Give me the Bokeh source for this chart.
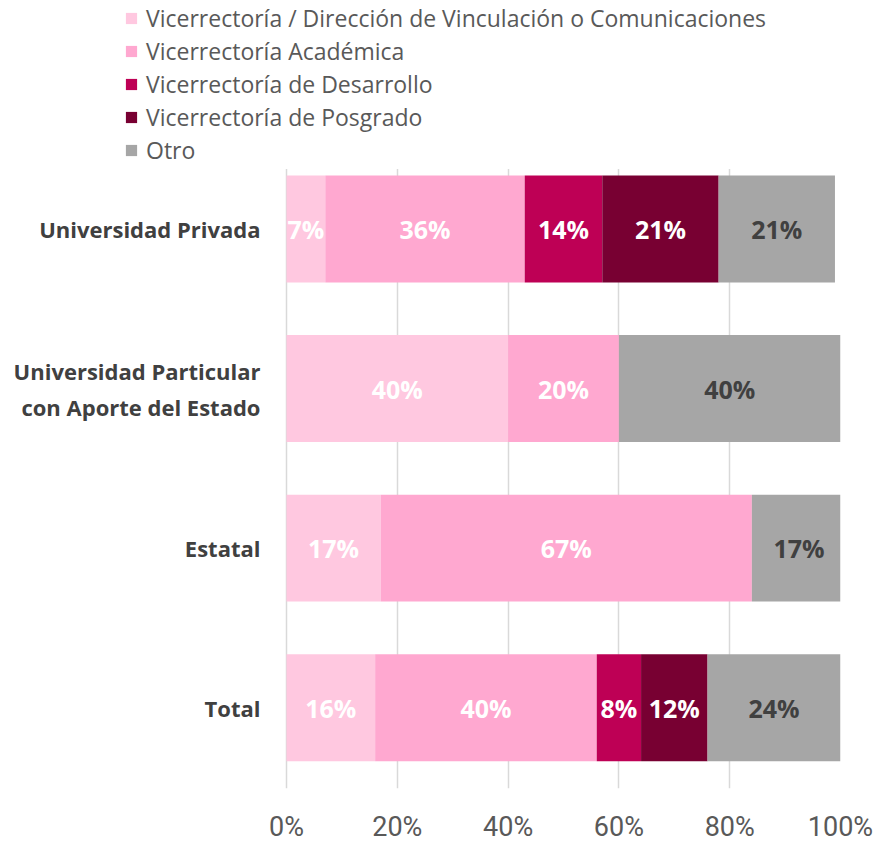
import pandas as pd
from bokeh.plotting import figure
from bokeh.models import ColumnDataSource, Range1d, Legend, LegendItem, FixedTicker, PrintfTickFormatter
from bokeh.core.properties import value
from bokeh.embed import file_html
from bokeh.resources import INLINE

categories = ["Universidad Privada", "Universidad Particular\ncon Aporte del Estado", "Estatal", "Total"]
series_names = [
    "Vicerrectoría / Dirección de Vinculación o Comunicaciones",
    "Vicerrectoría Académica",
    "Vicerrectoría de Desarrollo",
    "Vicerrectoría de Posgrado",
    "Otro",
]
vinculacion = [7, 40, 17, 16]
academica = [36, 20, 67, 40]
desarrollo = [14, 0, 0, 8]
posgrado = [21, 0, 0, 12]
otro = [21, 40, 17, 24]
x_ticks = [0, 20, 40, 60, 80, 100]

colors = ["#FFC8E0", "#FFA8D0", "#BE0055", "#780032", "#A6A6A6"]
label_colors = ["#FFFFFF", "#FFFFFF", "#FFFFFF", "#FFFFFF", "#404040"]
keys = ["s0", "s1", "s2", "s3", "s4"]
series = [vinculacion, academica, desarrollo, posgrado, otro]

n = len(categories)
ypos = [n - 1 - i for i in range(n)]  # first category at top

df = pd.DataFrame({"cat": categories, "y": ypos})
for k, s in zip(keys, series):
    df[k] = s
source = ColumnDataSource(df)

# frame spans the full canvas width on the left so that the legend (left of the bars) is not clipped
PX_PER_PCT = 5.54
p = figure(
    width=879, height=845,
    x_range=Range1d(-286 / PX_PER_PCT, 100),
    y_range=Range1d(-0.506, 3 + 229 / 160),
    output_backend="svg", toolbar_location=None,
    min_border_left=0, min_border_right=39, min_border_top=0, min_border_bottom=55,
)

renderers = p.hbar_stack(keys, y="y", height=0.67, source=source,
                         color=colors, line_color=None)

# data labels
lx, ly, lt, lc = [], [], [], []
for i in range(n):
    cum = 0
    for j, s in enumerate(series):
        v = s[i]
        if v > 0:
            lx.append(cum + v / 2)
            ly.append(ypos[i])
            lt.append(f"{v}%")
            lc.append(label_colors[j])
        cum += v
lsrc = ColumnDataSource(dict(x=lx, y=ly, t=lt, c=lc))
p.text(x="x", y="y", text="t", source=lsrc, text_color="c",
       text_align="center", text_baseline="middle",
       text_font=value("Open Sans"), text_font_style="bold", text_font_size="25px")

legend = Legend(
    items=[LegendItem(label=nm, renderers=[r]) for nm, r in zip(series_names, renderers)],
    location=(121, 619),
    background_fill_color="#FFFFFF", background_fill_alpha=1, border_line_alpha=0,
    padding=3, margin=0, spacing=0,
    label_height=33, label_width=710, glyph_height=14, glyph_width=14, label_standoff=8,
    label_text_font="Open Sans", label_text_font_size="23px", label_text_color="#595959",
)
p.add_layout(legend)

p.xgrid.ticker = FixedTicker(ticks=x_ticks)
p.xgrid.grid_line_color = "#D9D9D9"
p.xgrid.grid_line_width = 1.5
p.ygrid.grid_line_color = None
p.outline_line_color = None

p.xaxis.ticker = FixedTicker(ticks=x_ticks)
p.xaxis.formatter = PrintfTickFormatter(format="%d%%")
p.xaxis.axis_line_color = None
p.xaxis.major_tick_line_color = None
p.xaxis.minor_tick_line_color = None
p.xaxis.major_tick_out = 0
p.xaxis.major_tick_in = 0
p.xaxis.major_label_standoff = 22
p.xaxis.major_label_text_font = "Roboto"
p.xaxis.major_label_text_font_size = "27px"
p.xaxis.major_label_text_color = "#595959"

p.yaxis.fixed_location = 0
p.yaxis.ticker = FixedTicker(ticks=ypos)
p.yaxis.major_label_overrides = {y: c for y, c in zip(ypos, categories)}
p.yaxis.axis_line_color = None
p.yaxis.major_tick_line_color = None
p.yaxis.minor_tick_line_color = None
p.yaxis.major_tick_out = 0
p.yaxis.major_tick_in = 0
p.yaxis.major_label_standoff = 26
p.yaxis.major_label_text_font = "Open Sans"
p.yaxis.major_label_text_font_style = "bold"
p.yaxis.major_label_text_font_size = "22px"
p.yaxis.major_label_text_color = "#404040"

open("out.html", "w").write(file_html(p, INLINE))
